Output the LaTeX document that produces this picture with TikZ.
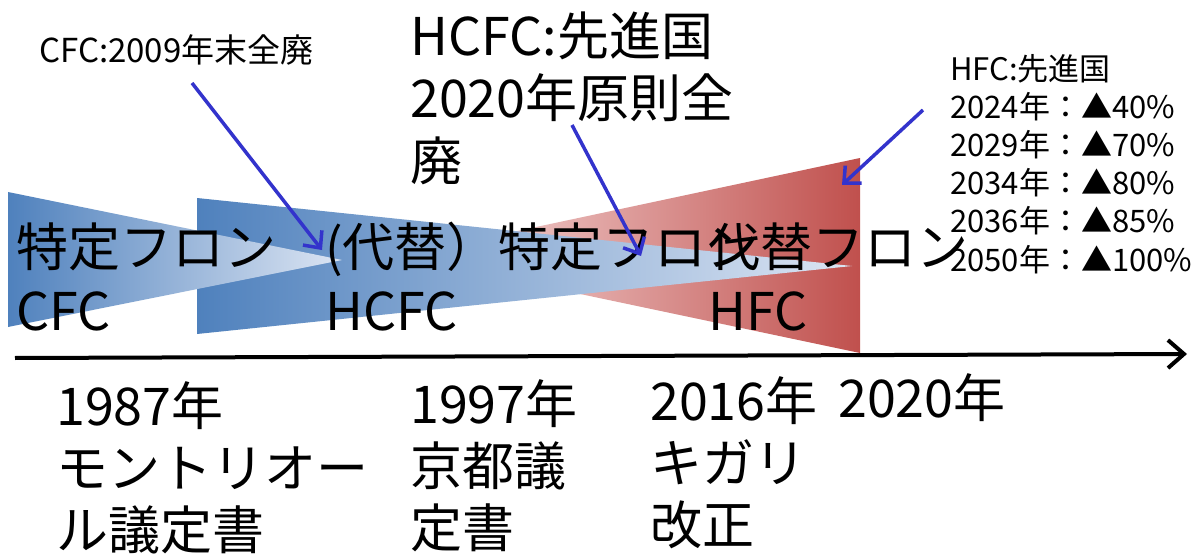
\documentclass[tikz,border=0pt]{standalone}
\usepackage{fontspec}
\setmainfont{Noto Sans CJK JP}
\usetikzlibrary{arrows.meta}
\definecolor{blueD}{HTML}{4F81BD}
\definecolor{blueL}{HTML}{DCE5F3}
\definecolor{redL}{HTML}{FAE6E6}
\definecolor{redM}{HTML}{EBB4B3}
\definecolor{redD}{HTML}{C0504D}
\definecolor{arrowblue}{HTML}{3333CC}
\begin{document}
\begin{tikzpicture}[x=1pt,y=-1pt,
  big/.style={font=\fontsize{52}{63}\selectfont, anchor=base west, inner sep=0pt, align=left},
  bigwedge/.style={font=\fontsize{52}{64}\selectfont, anchor=base west, inner sep=0pt, align=left},
  bottomlabel/.style={font=\fontsize{52}{62}\selectfont, anchor=base west, inner sep=0pt, align=left},
  note/.style={font=\fontsize{33}{38}\selectfont, anchor=base west, inner sep=0pt, align=left},
  smallnote/.style={font=\fontsize{31}{38.2}\selectfont, anchor=base west, inner sep=0pt, align=left},
  callout/.style={draw=arrowblue, line width=3.5pt, -{Straight Barb[length=13pt,width=24pt]}},
  axis/.style={draw=black, line width=4pt, -{Straight Barb[length=16pt,width=28pt]}}]
\useasboundingbox (0,0) rectangle (1200,559);
\fill[white] (0,0) rectangle (1200,559);

% wedges (back to front)
\shade[left color=redL, middle color=redM, right color=redD] (400,256) -- (860,158) -- (860,353) -- cycle;
\shade[left color=blueD, right color=blueL] (197,198) -- (852,266) -- (197,334) -- cycle;
\shade[left color=blueD, right color=blueL] (8,192) -- (342,260) -- (8,327) -- cycle;

% time axis
\coordinate (axstart) at (15,358);
\coordinate (axend) at (1187,354);
\draw[axis] (axstart) -- (axend);

% wedge labels (anchor = baseline of last line)
\node[bigwedge] (cfclabel) at (16,330) {特定フロン\\CFC};
\node[bigwedge] (hcfclabel) at (325,330) {(代替）特定フロン\\HCFC};
\node[bigwedge] (hfclabel) at (708,330) {代替フロン\\HFC};

% notes
\node[note] (cfcnote) at (39,63) {CFC:2009年末全廃};
\node[big] (hcfcnote) at (410,181) {HCFC:先進国\\2020年原則全\\廃};
\node[smallnote] (hfcnote) at (950,271) {HFC:先進国\\2024年：▲40\%\\2029年：▲70\%\\2034年：▲80\%\\2036年：▲85\%\\2050年：▲100\%};

% bottom labels
\node[bottomlabel] (y1987) at (56,549) {1987年\\モントリオー\\ル議定書};
\node[bottomlabel] (y1997) at (410,547) {1997年\\京都議\\定書};
\node[bottomlabel] (y2016) at (650,544) {2016年\\キガリ\\改正};
\node[bottomlabel] (y2020) at (838,417) {2020年};

% callout arrows
\coordinate (a1s) at (192,83);
\coordinate (a1e) at (322,250);
\coordinate (a2s) at (572,125);
\coordinate (a2e) at (641,256);
\coordinate (a3s) at (923,110);
\coordinate (a3e) at (842,185);
\draw[callout] (a1s) -- (a1e);
\draw[callout] (a2s) -- (a2e);
\draw[callout] (a3s) -- (a3e);
\end{tikzpicture}
\end{document}
